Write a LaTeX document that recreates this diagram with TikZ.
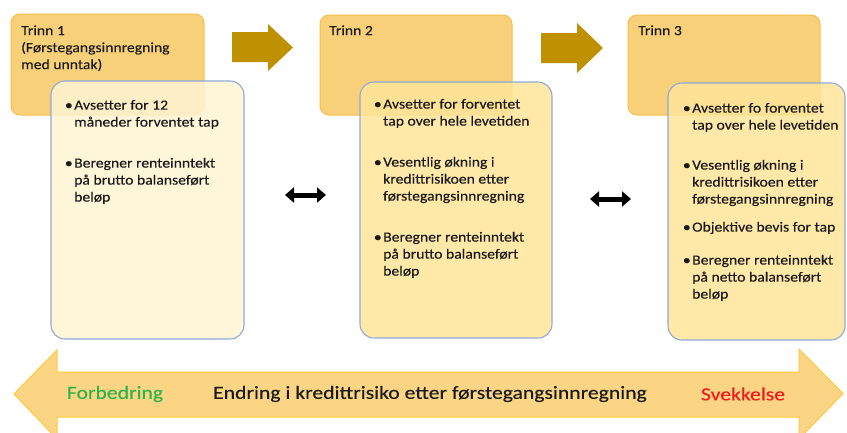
\documentclass[tikz,border=0pt]{standalone}
\usepackage{fontspec}
\setmainfont{Carlito}
\newfontfamily\boxfont[FakeStretch=1.12,FakeBold=0.25]{Carlito}
\newfontfamily\bigfont[FakeStretch=1.17,FakeBold=0.25]{Carlito}
\usetikzlibrary{arrows.meta}
\definecolor{obfill}{HTML}{F9D07A}
\definecolor{obdraw}{HTML}{F5BF45}
\definecolor{bbdraw}{HTML}{8FA9D8}
\definecolor{paleFill}{HTML}{FFF3D2}
\definecolor{yelFill}{HTML}{FFE49A}
\definecolor{goldArrow}{HTML}{BF9000}
\definecolor{bigFill}{HTML}{FCD584}
\definecolor{bigDraw}{HTML}{FFC83D}
\definecolor{goodGreen}{HTML}{2EB24A}
\definecolor{badRed}{HTML}{F21B1B}
\definecolor{txt}{HTML}{1A1A1A}
\newcommand{\bul}{\strut\llap{•\hspace{1.5pt}}}
\begin{document}
\begin{tikzpicture}[x=1pt,y=-1pt,
  obox/.style={draw=obdraw,line width=1pt,fill=obfill,rounded corners=9pt,inner sep=0pt},
  bbox/.style={draw=bbdraw,line width=1.1pt,rounded corners=14pt,inner sep=0pt,fill opacity=0.86},
  btext/.style={anchor=north west,inner sep=0pt,align=left,text=txt,font=\boxfont\fontsize{14}{17}\selectfont},
  gold/.style={fill=goldArrow,draw=none},
  dbl/.style={line width=5pt,{Triangle[length=9pt,width=15pt]}-{Triangle[length=9pt,width=15pt]},black},
  bottomtxt/.style={inner sep=0pt,font=\bigfont\fontsize{18.5}{22}\selectfont}
]
\useasboundingbox (0,0) rectangle (847,432);
\clip (0,0) rectangle (847,432);

% stage boxes (orange)
\node[obox,minimum width=193pt,minimum height=101pt] (t1) at (107.5,64.5) {};
\node[obox,minimum width=192pt,minimum height=100pt] (t2) at (416,65) {};
\node[obox,minimum width=192pt,minimum height=100pt] (t3) at (724,65) {};

\node[btext] (t1lbl) at (21,23) {\strut Trinn 1\\(Førstegangsinnregning\\med unntak)};
\node[btext] (t2lbl) at (329,23) {\strut Trinn 2};
\node[btext] (t3lbl) at (638,23) {\strut Trinn 3};

% detail boxes
\node[bbox,fill=paleFill,minimum width=193pt,minimum height=258pt] (b1) at (147.5,210) {};
\node[bbox,fill=yelFill,minimum width=192pt,minimum height=256pt] (b2) at (456,210) {};
\node[bbox,fill=yelFill,minimum width=177pt,minimum height=257pt] (b3) at (756.5,211.5) {};

% box 1 text
\node[btext] (b1a) at (74,97.5) {\bul Avsetter for 12\\måneder forventet tap};
\node[btext] (b1b) at (74,155.5) {\bul Beregner renteinntekt\\på brutto balanseført\\beløp};
% box 2 text
\node[btext] (b2a) at (383,96.5) {\bul Avsetter for forventet\\tap over hele levetiden};
\node[btext] (b2b) at (383,154.5) {\bul Vesentlig økning i\\kredittrisikoen etter\\førstegangsinnregning};
\node[btext] (b2c) at (383,229.5) {\bul Beregner renteinntekt\\på brutto balanseført\\beløp};
% box 3 text
\node[btext] (b3a) at (692,100.5) {\bul Avsetter fo forventet\\tap over hele levetiden};
\node[btext] (b3b) at (692,157.5) {\bul Vesentlig økning i\\kredittrisikoen etter\\førstegangsinnregning};
\node[btext] (b3c) at (692,219.5) {\bul Objektive bevis for tap};
\node[btext] (b3d) at (692,252.5) {\bul Beregner renteinntekt\\på netto balanseført\\beløp};

% gold step arrows
\path[gold] (232,32) -- (268,32) -- (268,24) -- (293,47.5) -- (268,71) -- (268,62) -- (232,62) -- cycle;
\path[gold] (541,33) -- (577,33) -- (577,23) -- (603,48) -- (577,73) -- (577,63) -- (541,63) -- cycle;

% black double arrows between detail boxes
\coordinate (d1l) at (285,195);
\coordinate (d1r) at (326,195);
\coordinate (d2l) at (590,199);
\coordinate (d2r) at (631,199);
\draw[dbl] (d1l) -- (d1r);
\draw[dbl] (d2l) -- (d2r);

% big bottom arrow
\path[fill=bigFill,draw=bigDraw,line width=1pt,line join=miter]
  (14,394) -- (57,350) -- (57,372) -- (799,372) -- (799,349) -- (843,393.5)
  -- (799,439) -- (799,417) -- (57,417) -- (57,439) -- cycle;
\node[bottomtxt,text=goodGreen] (good) at (115,394) {Forbedring};
\node[bottomtxt,text=txt] (mid) at (430,394) {Endring i kredittrisiko etter førstegangsinnregning};
\node[bottomtxt,text=badRed] (bad) at (743,394) {Svekkelse};
\end{tikzpicture}
\end{document}
